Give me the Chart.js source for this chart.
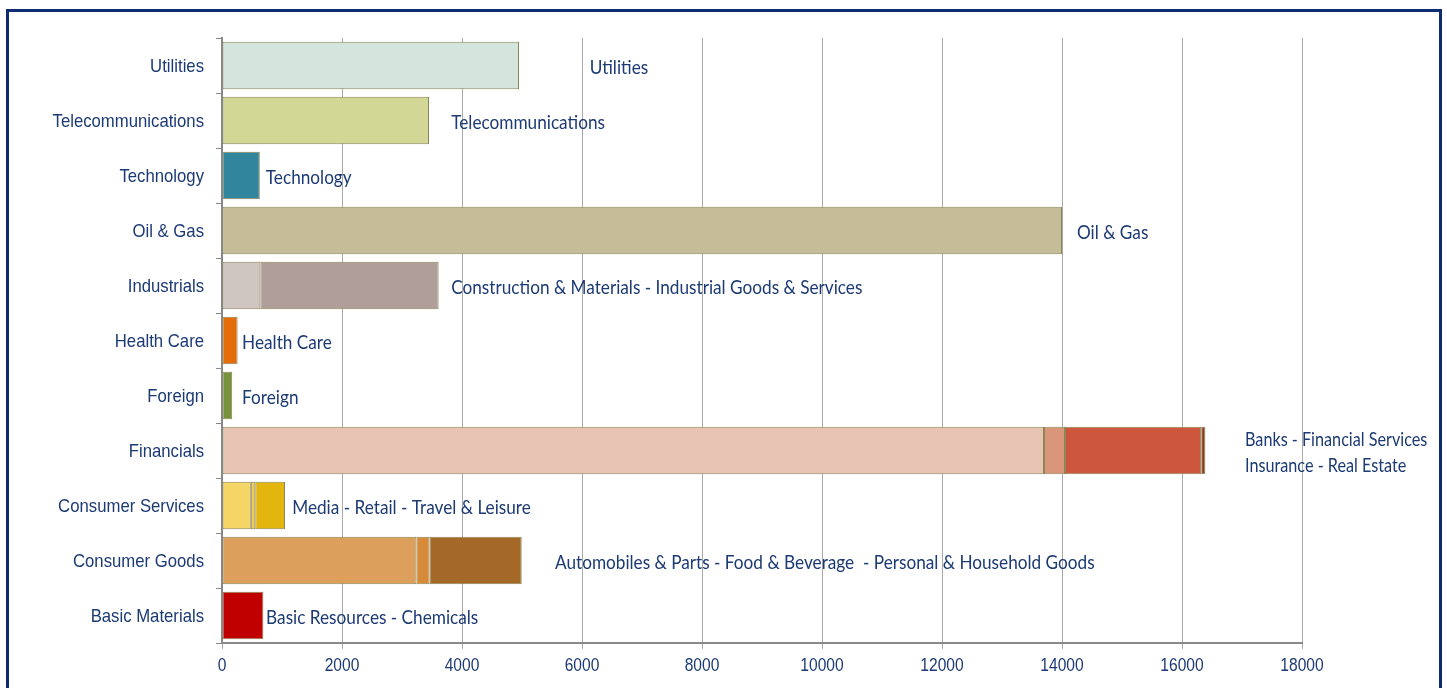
<!DOCTYPE html>
<html>
<head>
<meta charset="utf-8">
<script src="https://cdn.jsdelivr.net/npm/chart.js@4/dist/chart.umd.min.js"></script>
<style>
  html, body { margin: 0; padding: 0; background: #fff; }
  #wrap { position: relative; width: 1447px; height: 688px; overflow: hidden; }
  #frame { position: absolute; left: 6px; top: 9px; width: 1430px; height: 700px; border: 3px solid #0d2c74; }
  #chart { position: absolute; left: 0; top: 0; }
</style>
</head>
<body>
<div id="wrap">
  <div id="frame"></div>
  <canvas id="chart" width="1447" height="688"></canvas>
</div>
<script>
// categories, top to bottom
const sectors = ['Utilities', 'Telecommunications', 'Technology', 'Oil & Gas', 'Industrials',
  'Health Care', 'Foreign', 'Financials', 'Consumer Services', 'Consumer Goods', 'Basic Materials'];

// stacked sub-sector segments (null = no segment)
const part1 = [4950, 3450, 630, 14000, 640, 260, 170, 13700, 480, 3240, 690];
const part2 = [null, null, null, null, 2970, null, null, 350, 75, 220, null];
const part3 = [null, null, null, null, null, null, null, 2270, 495, 1535, null];
const part4 = [null, null, null, null, null, null, null, 70, null, null, null];

const colors1 = ['#d3e5dd', '#d3d796', '#31859c', '#c4bd97', '#cfc5c1', '#e36c09', '#77933c', '#e6c3b3', '#f5d566', '#dc9f5c', '#c00000'];
const colors2 = ['', '', '', '', '#b09e9a', '', '', '#d9967b', '#f0cc55', '#d78b38', ''];
const colors3 = ['', '', '', '', '', '', '', '#cd573d', '#e3b50f', '#a46827', ''];
const colors4 = ['', '', '', '', '', '', '', '#8b3a1a', '', '', ''];

// sub-sector captions and the axis value where each caption starts
const captions = [['Utilities'], ['Telecommunications'], ['Technology'], ['Oil & Gas'],
  ['Construction & Materials - Industrial Goods & Services'], ['Health Care'], ['Foreign'],
  ['Banks - Financial Services', 'Insurance - Real Estate'], ['Media - Retail - Travel & Leisure'],
  ['Automobiles & Parts - Food & Beverage  - Personal & Household Goods'], ['Basic Resources - Chemicals']];
const captionAt = [6130, 3820, 730, 14250, 3820, 335, 335, 17050, 1170, 5550, 735];

const xTicks = [0, 2000, 4000, 6000, 8000, 10000, 12000, 14000, 16000, 18000];

const navy = '#1c3a73';
const edge = '#8a8658';
const face = "'Liberation Sans', Arial, sans-serif";
const capFace = "Lato, 'Liberation Sans', sans-serif";

// text drawn slightly condensed, like the narrow face of the original
function narrowText(ctx, t, x, y, squeeze) {
    ctx.save();
    ctx.translate(x, y);
    ctx.scale(squeeze, 1);
    ctx.fillText(t, 0, 0);
    ctx.restore();
}

const labelPlugin = {
    id: 'labels',
    afterDraw(chart) {
        const ctx = chart.ctx;
        const xs = chart.scales.x, ys = chart.scales.y;
        ctx.save();
        ctx.fillStyle = navy;
        ctx.textBaseline = 'middle';

        // axis labels
        ctx.font = '19px ' + face;
        ctx.textAlign = 'right';
        sectors.forEach((s, i) => narrowText(ctx, s, 204, ys.getPixelForValue(i) + 1, 0.88));
        ctx.textAlign = 'center';
        xTicks.forEach(v => narrowText(ctx, String(v), xs.getPixelForValue(v), 666, 0.82));

        // captions next to bars
        ctx.font = '20px ' + capFace;
        ctx.textAlign = 'left';
        captions.forEach((lines, i) => {
            const x = xs.getPixelForValue(captionAt[i]);
            const y = ys.getPixelForValue(i) + 2;
            const sq = lines.length > 1 ? 0.81 : 0.86;
            lines.forEach((t, k) => {
                narrowText(ctx, t, x, y + (k - (lines.length - 1) / 2) * 26, sq);
            });
        });
        ctx.restore();
    }
};

function mk(data, bg) {
    return {
        data: data,
        backgroundColor: bg,
        borderColor: edge,
        borderWidth: 1,
        borderSkipped: false,
        barPercentage: 0.86,
        categoryPercentage: 1
    };
}

new Chart(document.getElementById('chart'), {
    type: 'bar',
    data: {
        labels: sectors,
        datasets: [mk(part1, colors1), mk(part2, colors2), mk(part3, colors3), mk(part4, colors4)]
    },
    options: {
        indexAxis: 'y',
        responsive: false,
        animation: false,
        layout: { padding: { left: 0, top: 38, right: 145, bottom: 0 } },
        plugins: { legend: { display: false }, tooltip: { enabled: false } },
        scales: {
            x: {
                stacked: true,
                min: 0, max: 18000,
                afterBuildTicks: (s) => { s.ticks = xTicks.map(v => ({ value: v })); },
                afterFit: (s) => { s.height = 45; },
                border: { color: '#888', width: 2 },
                grid: { color: '#aaa', lineWidth: 1, tickLength: 6 },
                ticks: { color: 'rgba(0,0,0,0)', maxRotation: 0, font: { size: 14 } }
            },
            y: {
                stacked: true,
                afterFit: (s) => { s.width = 222; },
                border: { color: '#888', width: 2 },
                grid: { drawOnChartArea: false, color: '#888', tickLength: 6, offset: true },
                ticks: { color: 'rgba(0,0,0,0)', font: { size: 14 } }
            }
        }
    },
    plugins: [labelPlugin]
});
</script>
</body>
</html>
